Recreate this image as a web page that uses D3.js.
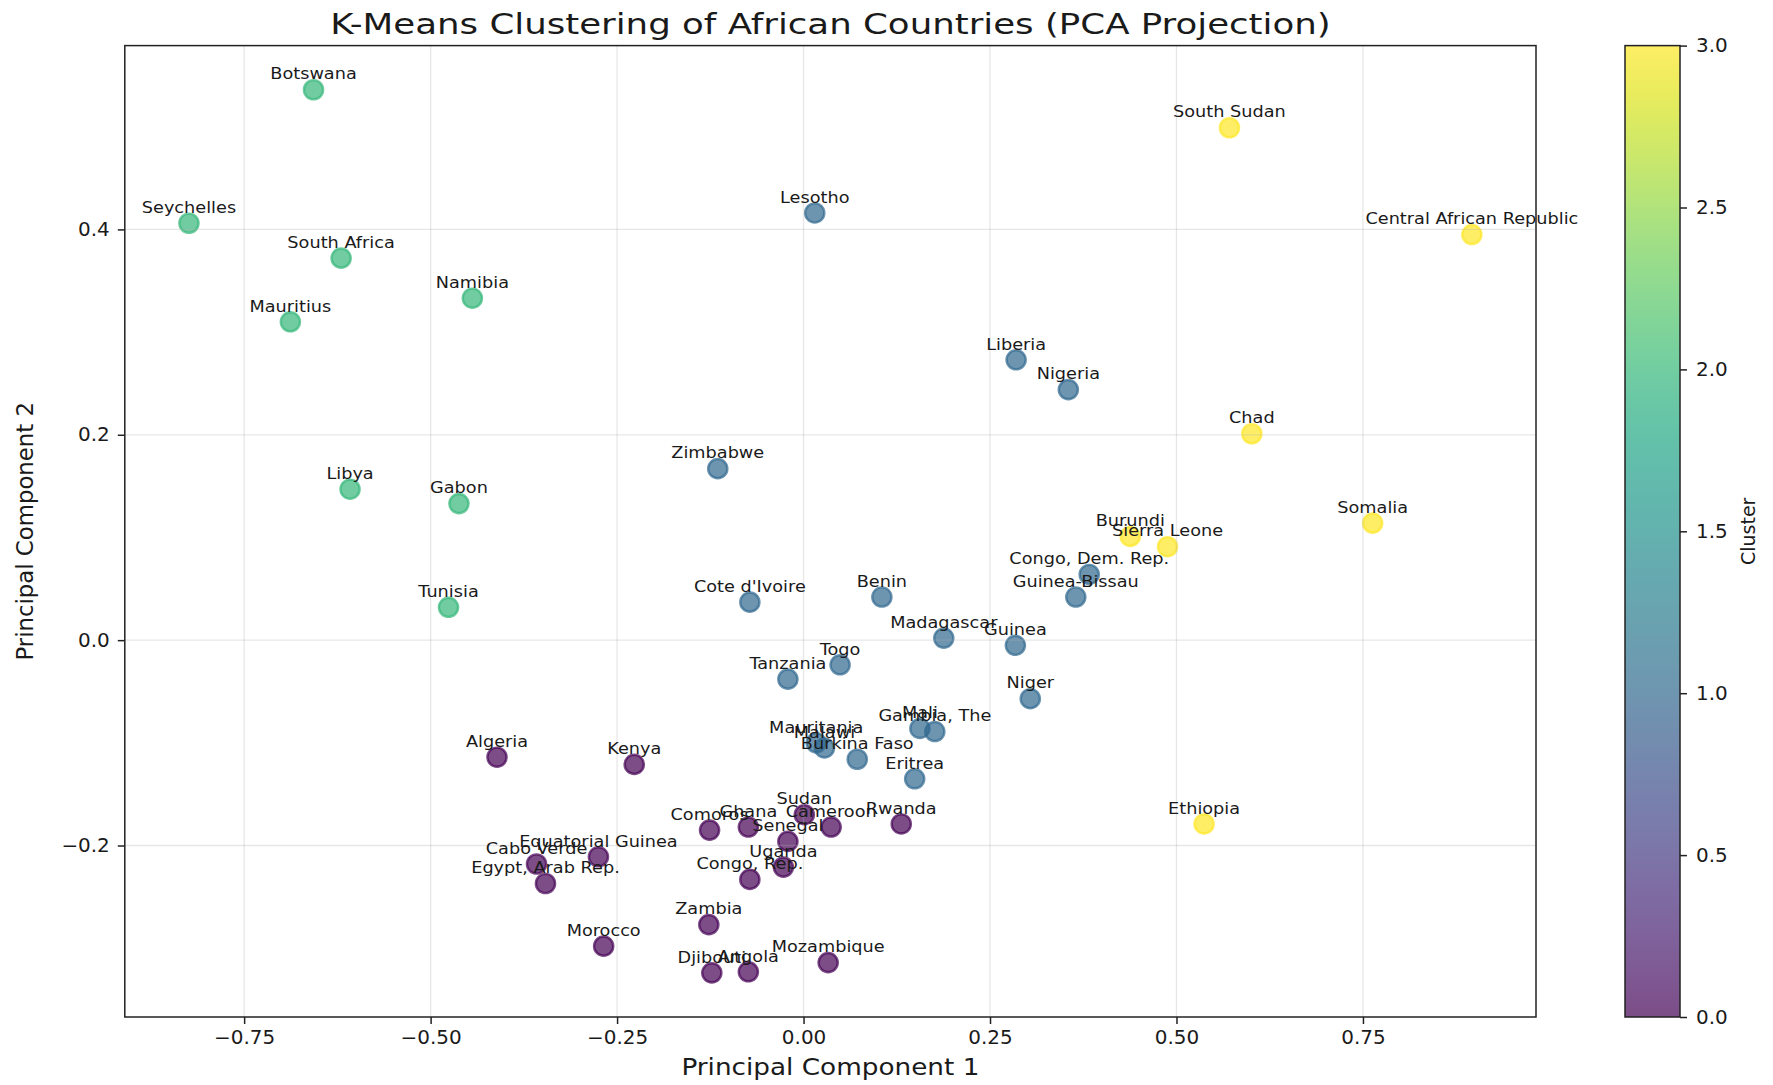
<!DOCTYPE html>
<html><head><meta charset="utf-8">
<script src="https://cdn.jsdelivr.net/npm/d3@7"></script>
<style>html,body{margin:0;padding:0;background:#fff;overflow:hidden}</style>
</head><body>
<div id="chart"></div>
<script>
// ---- data ----
const countries = ["Botswana","Seychelles","South Africa","Namibia","Mauritius","Libya","Gabon","Tunisia",
  "Lesotho","Zimbabwe","Liberia","Nigeria","Congo, Dem. Rep.","Guinea-Bissau","Cote d'Ivoire","Benin","Madagascar","Guinea","Togo","Tanzania","Niger","Mali","Gambia, The","Mauritania","Malawi","Burkina Faso","Eritrea",
  "Algeria","Kenya","Sudan","Ghana","Cameroon","Comoros","Senegal","Rwanda","Equatorial Guinea","Cabo Verde","Egypt, Arab Rep.","Uganda","Congo, Rep.","Zambia","Morocco","Mozambique","Djibouti","Angola",
  "South Sudan","Central African Republic","Chad","Somalia","Burundi","Sierra Leone","Ethiopia"];
const pc1 = [-0.657,-0.824,-0.620,-0.444,-0.688,-0.608,-0.462,-0.476,
  0.015,-0.115,0.285,0.355,0.383,0.365,-0.072,0.105,0.188,0.284,0.049,-0.021,0.304,0.156,0.176,0.017,0.028,0.072,0.149,
  -0.411,-0.227,0.001,-0.074,0.037,-0.126,-0.021,0.131,-0.275,-0.358,-0.346,-0.027,-0.072,-0.127,-0.268,0.033,-0.123,-0.074,
  0.571,0.896,0.601,0.763,0.438,0.488,0.537];
const pc2 = [0.536,0.406,0.372,0.333,0.310,0.147,0.133,0.032,
  0.416,0.167,0.273,0.244,0.064,0.042,0.037,0.042,0.002,-0.005,-0.024,-0.038,-0.057,-0.086,-0.089,-0.100,-0.105,-0.116,-0.135,
  -0.114,-0.121,-0.170,-0.182,-0.182,-0.185,-0.196,-0.179,-0.211,-0.218,-0.237,-0.221,-0.233,-0.277,-0.298,-0.314,-0.324,-0.323,
  0.499,0.395,0.201,0.114,0.101,0.091,-0.179];
const clusters = [2,2,2,2,2,2,2,2,
  1,1,1,1,1,1,1,1,1,1,1,1,1,1,1,1,1,1,1,
  0,0,0,0,0,0,0,0,0,0,0,0,0,0,0,0,0,0,
  3,3,3,3,3,3,3];
const xTicks = [-0.75,-0.5,-0.25,0,0.25,0.5,0.75];
const yTicks = [-0.2,0,0.2,0.4];
const cbTicks = [0,0.5,1,1.5,2,2.5,3];
const titleText = "K-Means Clustering of African Countries (PCA Projection)";
const xLabel = "Principal Component 1";
const yLabel = "Principal Component 2";
const cbLabel = "Cluster";

// ---- layout ----
const W = 1773, H = 1085;
const plot = {l:124.8, r:1536, t:45.6, b:1017};
const cb = {l:1625, r:1680};
const FONT = "'DejaVu Sans', sans-serif";
const TXT = "#1a1a1a";

const svg = d3.select("#chart").append("svg")
  .attr("width", W).attr("height", H)
  .style("font-family", FONT);
svg.append("rect").attr("width", W).attr("height", H).attr("fill", "#fff");

function padExt(ext){ const s = ext[1]-ext[0]; return [ext[0]-0.05*s, ext[1]+0.05*s]; }
const x = d3.scaleLinear().domain(padExt(d3.extent(pc1))).range([plot.l, plot.r]);
const y = d3.scaleLinear().domain(padExt(d3.extent(pc2))).range([plot.b, plot.t]);
const color = c => d3.interpolateViridis(c/3);

const data = countries.map((n,i)=>({name:n, x:pc1[i], y:pc2[i], c:clusters[i]}));

// points
svg.append("g").selectAll("circle").data(data).join("circle")
  .attr("cx", d=>x(d.x)).attr("cy", d=>y(d.y)).attr("r", 9.6)
  .attr("fill", d=>color(d.c)).attr("fill-opacity", 0.7)
  .attr("stroke", d=>color(d.c)).attr("stroke-opacity", 0.7).attr("stroke-width", 2.4);

// grid
const grid = svg.append("g").attr("stroke", "#b0b0b0").attr("stroke-opacity", 0.3).attr("stroke-width", 1.3);
grid.selectAll("line.gx").data(xTicks).join("line").attr("class","gx")
  .attr("x1", d=>x(d)).attr("x2", d=>x(d)).attr("y1", plot.t).attr("y2", plot.b);
grid.selectAll("line.gy").data(yTicks).join("line").attr("class","gy")
  .attr("y1", d=>y(d)).attr("y2", d=>y(d)).attr("x1", plot.l).attr("x2", plot.r);

// point labels
svg.append("g").selectAll("text").data(data).join("text")
  .attr("transform", d=>`translate(${x(d.x)},${y(d.y+0.01)}) scale(1.12,1)`)
  .attr("text-anchor", "middle").attr("font-size", 15.8).attr("fill", TXT)
  .text(d=>d.name);

// spines
svg.append("rect").attr("x", plot.l).attr("y", plot.t)
  .attr("width", plot.r-plot.l).attr("height", plot.b-plot.t)
  .attr("fill", "none").attr("stroke", "#222").attr("stroke-width", 1.5);

// axes
function styleAxis(g){
  g.attr("font-family", FONT).attr("font-size", 19);
  g.select(".domain").remove();
  g.selectAll(".tick line").attr("stroke", "#222").attr("stroke-width", 1.5);
  g.selectAll(".tick text").attr("fill", TXT);
}
const gx = svg.append("g").attr("transform", `translate(0,${plot.b})`)
  .call(d3.axisBottom(x).tickValues(xTicks).tickFormat(d3.format(".2f")).tickSize(7).tickPadding(7));
styleAxis(gx);
gx.selectAll(".tick text").attr("transform", "scale(1.05,1)");

const gy = svg.append("g").attr("transform", `translate(${plot.l},0)`)
  .call(d3.axisLeft(y).tickValues(yTicks).tickFormat(d3.format(".1f")).tickSize(7).tickPadding(8));
styleAxis(gy);
gy.selectAll(".tick text").attr("x", -15/1.05).attr("transform", "scale(1.05,1)");

// axis labels
svg.append("text").attr("text-anchor", "middle").attr("font-size", 23.7).attr("fill", TXT)
  .attr("transform", `translate(${(plot.l+plot.r)/2},1075) scale(1.11,1)`).text(xLabel);
svg.append("text").attr("text-anchor", "middle").attr("font-size", 22.8).attr("fill", TXT)
  .attr("transform", `translate(33,${(plot.t+plot.b)/2}) rotate(-90)`).text(yLabel);

// title
const tt = svg.append("text").attr("text-anchor", "middle").attr("font-size", 29).attr("fill", TXT).text(titleText);
const tw = tt.node().getComputedTextLength();
tt.attr("transform", `translate(${(plot.l+plot.r)/2},34.4) scale(${1001/tw},1)`);

// colorbar
const cbScale = d3.scaleLinear().domain([0,3]).range([plot.b, plot.t]);
const defs = svg.append("defs");
const grad = defs.append("linearGradient").attr("id", "vir")
  .attr("x1", 0).attr("y1", 1).attr("x2", 0).attr("y2", 0);
d3.range(0, 1.0001, 0.02).forEach(t => {
  grad.append("stop").attr("offset", t).attr("stop-color", d3.interpolateViridis(t)).attr("stop-opacity", 0.7);
});
svg.append("rect").attr("x", cb.l).attr("y", plot.t).attr("width", cb.r-cb.l).attr("height", plot.b-plot.t)
  .attr("fill", "url(#vir)");
svg.append("rect").attr("x", cb.l).attr("y", plot.t).attr("width", cb.r-cb.l).attr("height", plot.b-plot.t)
  .attr("fill", "none").attr("stroke", "#222").attr("stroke-width", 1.5);
const gc = svg.append("g").attr("transform", `translate(${cb.r},0)`)
  .call(d3.axisRight(cbScale).tickValues(cbTicks).tickFormat(d3.format(".1f")).tickSize(7).tickPadding(9));
styleAxis(gc);
gc.selectAll(".tick text").attr("x", 16/1.05).attr("transform", "scale(1.05,1)");
svg.append("text").attr("text-anchor", "middle").attr("font-size", 19).attr("fill", TXT)
  .attr("transform", `translate(1755,${(plot.t+plot.b)/2}) rotate(-90)`).text(cbLabel);
</script>
</body></html>
